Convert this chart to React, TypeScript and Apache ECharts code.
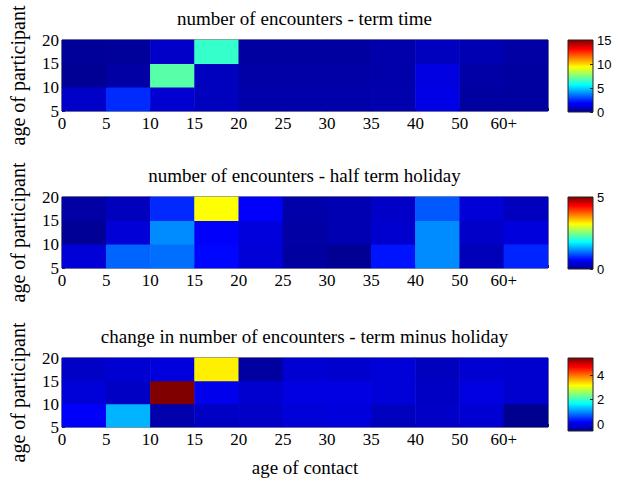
import React, { useEffect, useRef } from "react";
import * as echarts from "echarts";

const contactAges = ["0-5", "5-10", "10-15", "15-20", "20-25", "25-30", "30-35", "35-40", "40-50", "50-60", "60+"];
const participantAges = ["5-10", "10-15", "15-20"];
const xTickLabels = ["0", "5", "10", "15", "20", "25", "30", "35", "40", "50", "60+"];
const yTickLabels = ["5", "10", "15", "20"];

const titles = [
  "number of encounters - term time",
  "number of encounters - half term holiday",
  "change in number of encounters - term minus holiday",
];

// term time (rows: participant 5-10, 10-15, 15-20)
const term5_10 = [0.95, 2.5, 1.1, 0.8, 0.45, 0.45, 0.45, 0.5, 1.45, 0.3, 0.3];
const term10_15 = [0.1, 0.35, 6.9, 0.8, 0.4, 0.4, 0.4, 0.45, 1.35, 0.4, 0.3];
const term15_20 = [0.15, 0.2, 0.95, 6.4, 0.3, 0.3, 0.3, 0.45, 0.8, 0.6, 0.35];

// half term holiday
const hol5_10 = [0.4, 1.12, 1.16, 0.65, 0.4, 0.1, 0.02, 0.72, 1.31, 0.23, 0.8];
const hol10_15 = [0.04, 0.4, 1.31, 0.6, 0.43, 0.12, 0.2, 0.35, 1.31, 0.32, 0.43];
const hol15_20 = [0.12, 0.26, 0.82, 3.12, 0.6, 0.15, 0.2, 0.32, 1.06, 0.4, 0.26];

// term minus holiday
const diff5_10 = [0.14, 1.23, -0.37, -0.22, -0.2, -0.08, -0.06, -0.25, -0.2, -0.12, -0.57];
const diff10_15 = [-0.08, -0.22, 5.4, 0.05, -0.15, -0.03, -0.03, -0.08, -0.22, -0.03, -0.15];
const diff15_20 = [-0.2, -0.12, -0.06, 3.25, -0.46, -0.12, -0.15, -0.08, -0.25, -0.12, -0.15];

const colorbarMin = [0, 0, Math.min(...diff5_10, ...diff10_15, ...diff15_20)];
const colorbarMax = [15, 5, Math.max(...diff5_10, ...diff10_15, ...diff15_20)];
const colorbarTicks = [[0, 5, 10, 15], [0, 5], [0, 2, 4]];

const jet = ["#00008F", "#0000FF", "#0080FF", "#00FFFF", "#80FF80", "#FFFF00", "#FF8000", "#FF0000", "#800000"];

const SERIF = "Liberation Serif";
const SANS = "Liberation Sans";

const panels = [
  [term5_10, term10_15, term15_20],
  [hol5_10, hol10_15, hol15_20],
  [diff5_10, diff10_15, diff15_20],
];

const plotLeft = 61;
const plotWidth = 487;
const plotTops = [40, 197, 358];
const plotHeight = 71;
const cbLeft = 568;
const cbWidth = 25;

export default function App() {
  const ref = useRef<HTMLDivElement>(null);
  useEffect(() => {
    if (!ref.current) return;
    const chart = echarts.init(ref.current, undefined, { renderer: "svg" });

    const grid: any[] = [];
    const xAxis: any[] = [];
    const yAxis: any[] = [];
    const series: any[] = [];
    const visualMap: any[] = [];
    const title: any[] = [];
    const graphic: any[] = [];

    panels.forEach((rows, p) => {
      const top = plotTops[p];
      grid.push({ left: plotLeft, top, width: plotWidth, height: plotHeight, show: true, borderColor: "#222", borderWidth: 1, backgroundColor: "transparent" });
      const gi = grid.length - 1;
      xAxis.push({ type: "category", gridIndex: gi, data: contactAges, show: false });
      const xc = xAxis.length - 1;
      yAxis.push({ type: "category", gridIndex: gi, data: participantAges, show: false });
      const yc = yAxis.length - 1;
      xAxis.push({
        type: "value", gridIndex: gi, min: 0, max: 11, interval: 1, position: "bottom",
        axisLine: { show: false },
        axisTick: { show: true, inside: true, length: 3, lineStyle: { color: "#222" } },
        splitLine: { show: false },
        axisLabel: { fontFamily: SERIF, fontSize: 17, color: "#000", margin: 4, formatter: (v: number) => xTickLabels[v] ?? "" },
        name: p === 2 ? "age of contact" : "",
        nameLocation: "middle", nameGap: 31,
        nameTextStyle: { fontFamily: SERIF, fontSize: 19, color: "#000" },
      });
      yAxis.push({
        type: "value", gridIndex: gi, min: 0, max: 3, interval: 1, position: "left",
        axisLine: { show: false },
        axisTick: { show: true, inside: true, length: 3, lineStyle: { color: "#222" } },
        splitLine: { show: false },
        axisLabel: { fontFamily: SERIF, fontSize: 17, color: "#000", margin: 3, padding: [10, 0, 0, 0], formatter: (v: number) => yTickLabels[v] ?? "" },
        name: "age of participant", nameLocation: "middle", nameGap: 34, nameRotate: 90,
        nameTextStyle: { fontFamily: SERIF, fontSize: 20, color: "#000" },
      });
      const data: any[] = [];
      rows.forEach((row, r) => row.forEach((v, c) => data.push([c, r, v])));
      series.push({ type: "heatmap", xAxisIndex: xc, yAxisIndex: yc, data, itemStyle: { borderWidth: 0 } });
      visualMap.push({ show: false, type: "continuous", seriesIndex: series.length - 1, min: colorbarMin[p], max: colorbarMax[p], inRange: { color: jet } });

      title.push({
        text: titles[p], left: plotLeft + plotWidth / 2, textAlign: "center", top: top - 31, padding: 0,
        textStyle: { fontFamily: SERIF, fontSize: 19, fontWeight: "normal", color: "#000" },
      });

      const cbHeight = p === 2 ? 73 : 72;
      grid.push({ left: cbLeft, top, width: cbWidth, height: cbHeight, show: false });
      const cg = grid.length - 1;
      xAxis.push({ type: "category", gridIndex: cg, data: [""], show: false });
      yAxis.push({
        type: "value", gridIndex: cg, min: colorbarMin[p], max: colorbarMax[p], position: "right",
        axisLine: { show: false },
        axisTick: { show: true, inside: true, length: 3, customValues: colorbarTicks[p], lineStyle: { color: "#222" } },
        splitLine: { show: false },
        axisLabel: { fontFamily: SANS, fontSize: 13, color: "#000", margin: 4, customValues: colorbarTicks[p] },
      });
      graphic.push({
        type: "rect", z: -5,
        shape: { x: cbLeft, y: top, width: cbWidth, height: cbHeight },
        style: {
          fill: new echarts.graphic.LinearGradient(0, 1, 0, 0, jet.map((c, i) => ({ offset: i / (jet.length - 1), color: c }))),
          stroke: "#222", lineWidth: 1,
        },
      });
    });

    chart.setOption({
      animation: false,
      backgroundColor: "#fff",
      title,
      grid,
      xAxis,
      yAxis,
      visualMap,
      series,
      graphic,
    });
    return () => chart.dispose();
  }, []);
  return <div ref={ref} style={{ width: 622, height: 478, position: "absolute", left: 0, top: 0 }} />;
}
